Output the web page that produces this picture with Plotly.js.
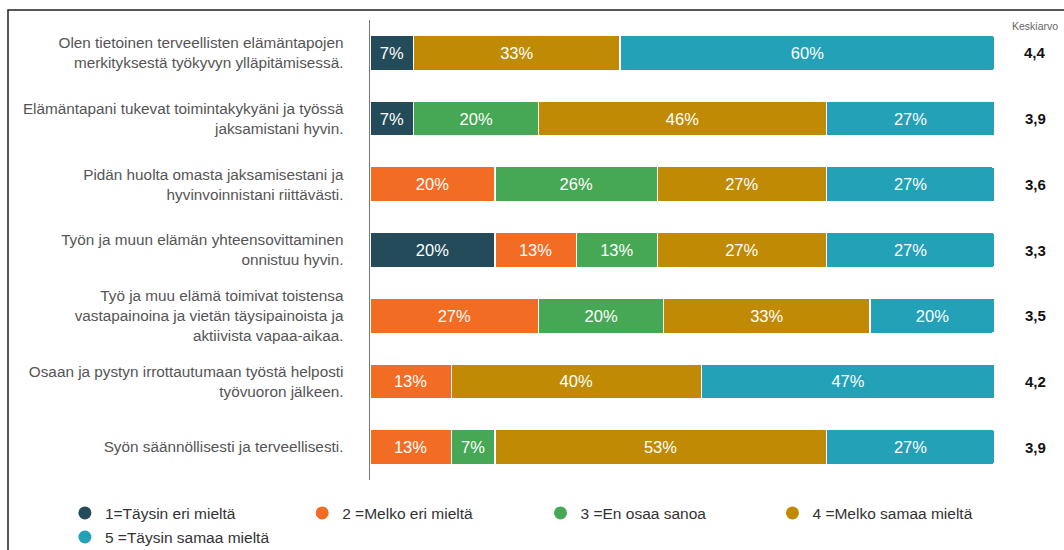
<!DOCTYPE html>
<html>
<head>
<meta charset="utf-8">
<script src="https://cdn.plot.ly/plotly-3.0.1.min.js"></script>
<style>
  html, body { margin: 0; padding: 0; background: #fff; }
  #chart { width: 1064px; height: 550px; }
</style>
</head>
<body>
<div id="chart"></div>
<script>
"use strict";

// väittämät (ylhäältä alas)
var statements = [
    "Olen tietoinen terveellisten elämäntapojen<br>merkityksestä työkyvyn ylläpitämisessä.",
    "Elämäntapani tukevat toimintakykyäni ja työssä<br>jaksamistani hyvin.",
    "Pidän huolta omasta jaksamisestani ja<br>hyvinvoinnistani riittävästi.",
    "Työn ja muun elämän yhteensovittaminen<br>onnistuu hyvin.",
    "Työ ja muu elämä toimivat toistensa<br>vastapainoina ja vietän täysipainoista ja<br>aktiivista vapaa-aikaa.",
    "Osaan ja pystyn irrottautumaan työstä helposti<br>työvuoron jälkeen.",
    "Syön säännöllisesti ja terveellisesti."
];

var seriesNames = [
    "1=Täysin eri mieltä",
    "2 =Melko eri mieltä",
    "3 =En osaa sanoa",
    "4 =Melko samaa mieltä",
    "5 =Täysin samaa mieltä"
];

// prosentit per vastausvaihtoehto
var s1 = [7, 7, 0, 20, 0, 0, 0];
var s2 = [0, 0, 20, 13, 27, 13, 13];
var s3 = [0, 20, 26, 13, 20, 0, 7];
var s4 = [33, 46, 27, 27, 33, 40, 53];
var s5 = [60, 27, 27, 27, 20, 47, 27];

var averages = ["4,4", "3,9", "3,6", "3,3", "3,5", "4,2", "3,9"];

var colors = ["#234b5a", "#f26c24", "#46a854", "#c08a04", "#22a1b7"];

var allSeries = [s1, s2, s3, s4, s5];
var data = [];

allSeries.forEach(function(vals, i){
    var labels = vals.map(function(v){ return v > 0 ? v + "%" : ""; });
    data.push({
        type: "bar",
        orientation: "h",
        x: vals,
        y: statements,
        name: seriesNames[i],
        showlegend: false,
        text: labels,
        texttemplate: "%{text}",
        textposition: "inside",
        insidetextanchor: "middle",
        textangle: 0,
        constraintext: "none",
        textfont: {color: "#ffffff", size: 16.5, family: "Liberation Sans, Arial"},
        marker: {color: colors[i], line: {color: "#ffffff", width: 1.2}},
        hoverinfo: "skip"
    });
});

// legenda: pyöreät symbolit, jokainen omana legendanaan
var legendIds = ["legend", "legend2", "legend3", "legend4", "legend5"];
seriesNames.forEach(function(name, i){
    data.push({
        type: "scatter",
        mode: "markers",
        x: [null],
        y: [null],
        name: name,
        legend: legendIds[i],
        marker: {color: colors[i], size: 13, symbol: "circle"},
        hoverinfo: "skip"
    });
});

var annotations = averages.map(function(a, i){
    return {
        xref: "paper", yref: "y",
        x: 1.064, y: statements[i],
        xanchor: "center",
        text: "<b>" + a + "</b>",
        showarrow: false,
        font: {size: 15, color: "#111", family: "Liberation Sans, Arial"}
    };
});
annotations.push({
    xref: "paper", yref: "paper",
    x: 1.064, y: 0.987,
    xanchor: "center",
    yanchor: "middle",
    text: "Keskiarvo",
    showarrow: false,
    font: {size: 10.5, color: "#666", family: "Liberation Sans, Arial"}
});

var layout = {
    width: 1064,
    height: 550,
    margin: {l: 370, r: 69, t: 20, b: 70},
    barmode: "stack",
    bargap: 0.47,
    barcornerradius: 3,
    paper_bgcolor: "#ffffff",
    plot_bgcolor: "#ffffff",
    font: {family: "Liberation Sans, Arial, sans-serif"},
    xaxis: {
        range: [0, 100],
        visible: false,
        fixedrange: true
    },
    yaxis: {
        type: "category",
        autorange: "reversed",
        showline: true,
        linecolor: "#777",
        linewidth: 1.5,
        showgrid: false,
        zeroline: false,
        ticks: "",
        ticklabelstandoff: 22,
        tickfont: {size: 15.3, color: "#555", family: "Liberation Sans, Arial"}
    },
    shapes: [{
        type: "rect",
        xref: "paper", yref: "paper",
        x0: -0.5792, x1: 1.3,
        y0: -0.3, y1: 1.0217,
        line: {color: "#222", width: 1.5},
        fillcolor: "rgba(0,0,0,0)",
        layer: "below"
    }],
    annotations: annotations
};

// legendojen paikat (container-koordinaatit)
var legX = [0.061, 0.284, 0.508, 0.726, 0.061];
var legY = [0.0975, 0.0975, 0.0975, 0.0975, 0.0538];
legendIds.forEach(function(id, i){
    layout[id] = {
        orientation: "h",
        xref: "container",
        yref: "container",
        x: legX[i],
        xanchor: "left",
        y: legY[i],
        yanchor: "top",
        itemwidth: 30,
        bgcolor: "rgba(0,0,0,0)",
        font: {size: 15.5, color: "#333", family: "Liberation Sans, Arial"}
    };
});

Plotly.newPlot("chart", data, layout, {staticPlot: true, displayModeBar: false});
</script>
</body>
</html>
